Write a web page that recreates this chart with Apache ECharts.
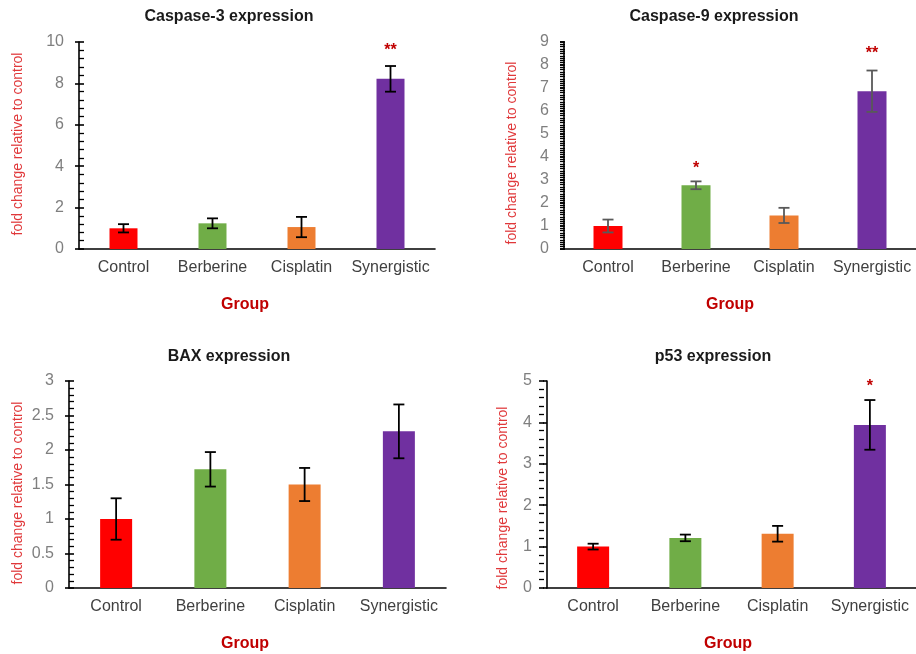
<!DOCTYPE html>
<html>
<head>
<meta charset="utf-8">
<script src="https://cdn.jsdelivr.net/npm/echarts@6/dist/echarts.min.js"></script>
<style>html,body{margin:0;padding:0;background:#fff}#c{width:916px;height:654px}</style>
</head>
<body>
<div id="c"></div>
<script>
// ---- data ----
const categories = ["Control", "Berberine", "Cisplatin", "Synergistic"];
const barColors = ["#FF0000", "#70AD47", "#ED7D31", "#7030A0"];

const casp3Mean = [1.0, 1.24, 1.06, 8.22];
const casp3Err  = [0.2, 0.24, 0.49, 0.62];
const casp3Sig  = ["", "", "", "**"];
const casp3SigY = [0, 0, 0, 9.8];

const casp9Mean = [1.0, 2.77, 1.46, 6.86];
const casp9Err  = [0.28, 0.17, 0.33, 0.9];
const casp9Sig  = ["", "*", "", "**"];
const casp9SigY = [0, 3.67, 0, 8.68];

const baxMean = [1.0, 1.72, 1.5, 2.27];
const baxErr  = [0.3, 0.25, 0.24, 0.39];
const baxSig  = ["", "", "", ""];
const baxSigY = [0, 0, 0, 0];

const p53Mean = [1.0, 1.21, 1.31, 3.94];
const p53Err  = [0.07, 0.08, 0.19, 0.6];
const p53Sig  = ["", "", "", "*"];
const p53SigY = [0, 0, 0, 4.97];

const panelTitles = ["Caspase-3 expression", "Caspase-9 expression", "BAX expression", "p53 expression"];
const yAxisTitle = "fold change relative to control";
const xAxisTitle = "Group";

// ---- layout / style ----
const panels = [
  {mean: casp3Mean, err: casp3Err, sig: casp3Sig, sigY: casp3SigY, max: 10, interval: 2, minorSplit: 5,
   grid: {left: 79, top: 42, width: 356, height: 207}, barWidth: 28, errColor: "#000",
   titlePos: [229, 17], yNamePos: [18, 144], xNamePos: [245, 305]},
  {mean: casp9Mean, err: casp9Err, sig: casp9Sig, sigY: casp9SigY, max: 9, interval: 1, minorSplit: 10,
   grid: {left: 564, top: 42, width: 356, height: 207}, barWidth: 29, errColor: "#595959",
   titlePos: [714, 17], yNamePos: [512, 153], xNamePos: [730, 305]},
  {mean: baxMean, err: baxErr, sig: baxSig, sigY: baxSigY, max: 3, interval: 0.5, minorSplit: 5,
   grid: {left: 69, top: 381, width: 377, height: 207}, barWidth: 32, errColor: "#000",
   titlePos: [229, 357], yNamePos: [18, 493], xNamePos: [245, 644]},
  {mean: p53Mean, err: p53Err, sig: p53Sig, sigY: p53SigY, max: 5, interval: 1, minorSplit: 5,
   grid: {left: 547, top: 381, width: 377, height: 207}, barWidth: 32, errColor: "#000",
   titlePos: [713, 357], yNamePos: [503, 498], xNamePos: [728, 644]}
];

const FONT = "'Liberation Sans', Arial, sans-serif";
const grids = [], xAxes = [], yAxes = [], series = [], graphics = [];

panels.forEach((p, i) => {
  grids.push(Object.assign({containLabel: false}, p.grid));
  // main x axis
  xAxes.push({
    type: 'category', gridIndex: i, data: categories,
    axisLine: {lineStyle: {color: '#000', width: 1.6}},
    axisTick: {show: true, alignWithLabel: true, inside: true, length: 4, lineStyle: {color: '#000', width: 1.6}},
    axisLabel: {color: '#404040', fontSize: 16, fontFamily: FONT, margin: 11, interval: 0, hideOverlap: false},
    splitLine: {show: false}
  });
  // outward half of crossing x ticks
  xAxes.push({
    type: 'category', gridIndex: i, data: categories,
    axisLine: {show: false},
    axisTick: {show: true, alignWithLabel: true, inside: false, length: 4, lineStyle: {color: '#000', width: 1.6}},
    axisLabel: {show: false}, splitLine: {show: false}
  });
  // main y axis: line, labels, outward half of major ticks
  yAxes.push({
    type: 'value', gridIndex: i, min: 0, max: p.max, interval: p.interval, position: 'left',
    axisLine: {show: true, lineStyle: {color: '#000', width: 1.6}},
    axisTick: {show: true, inside: false, length: 4, lineStyle: {color: '#000', width: 1.6}},
    axisLabel: {color: '#7f7f7f', fontSize: 16, fontFamily: FONT, margin: 15},
    splitLine: {show: false}
  });
  // inward major + minor ticks: an axis placed on the right, shifted onto the left edge
  yAxes.push({
    type: 'value', gridIndex: i, min: 0, max: p.max, interval: p.interval, position: 'right',
    offset: -p.grid.width,
    axisLine: {show: false},
    axisTick: {show: true, inside: false, length: 5, lineStyle: {color: '#000', width: 1.6}},
    minorTick: {show: true, splitNumber: p.minorSplit, length: 5, lineStyle: {color: '#000', width: 1.3}},
    axisLabel: {show: false}, splitLine: {show: false}
  });

  const xi = 2 * i, yi = 2 * i;
  series.push({
    type: 'bar', xAxisIndex: xi, yAxisIndex: yi, barWidth: p.barWidth,
    data: p.mean.map((v, k) => ({value: v, itemStyle: {color: barColors[k]}})),
    silent: true
  });
  const errColor = p.errColor;
  series.push({
    type: 'custom', xAxisIndex: xi, yAxisIndex: yi, silent: true,
    data: p.mean.map((v, k) => [k, v, p.err[k]]),
    renderItem: function (params, api) {
      const x = api.value(0), m = api.value(1), e = api.value(2);
      const hi = api.coord([x, m + e]);
      const lo = api.coord([x, m - e]);
      const hw = 5.5;
      const st = {stroke: errColor, lineWidth: 1.8};
      return {type: 'group', children: [
        {type: 'line', shape: {x1: hi[0], y1: hi[1], x2: lo[0], y2: lo[1]}, style: st},
        {type: 'line', shape: {x1: hi[0] - hw, y1: hi[1], x2: hi[0] + hw, y2: hi[1]}, style: st},
        {type: 'line', shape: {x1: lo[0] - hw, y1: lo[1], x2: lo[0] + hw, y2: lo[1]}, style: st}
      ]};
    },
    z: 5
  });
  const sigs = p.sig;
  series.push({
    type: 'custom', xAxisIndex: xi, yAxisIndex: yi, silent: true,
    data: p.sigY.map((v, k) => [k, v]),
    renderItem: function (params, api) {
      const k = params.dataIndex;
      if (!sigs[k]) return null;
      const pt = api.coord([api.value(0), api.value(1)]);
      return {type: 'text', x: pt[0], y: pt[1] + 4,
        style: {text: sigs[k], fill: '#C00000', font: 'bold 16px ' + FONT,
                textAlign: 'center', textVerticalAlign: 'middle', align: 'center', verticalAlign: 'middle'}};
    },
    z: 6
  });

  graphics.push({type: 'text', x: p.titlePos[0], y: p.titlePos[1],
    style: {text: panelTitles[i], fill: '#1a1a1a', font: 'bold 16px ' + FONT,
            textAlign: 'center', textVerticalAlign: 'middle', align: 'center', verticalAlign: 'middle'}});
  graphics.push({type: 'text', x: p.yNamePos[0], y: p.yNamePos[1], rotation: Math.PI / 2,
    style: {text: yAxisTitle, fill: '#E0383A', font: '14px ' + FONT,
            textAlign: 'center', textVerticalAlign: 'middle', align: 'center', verticalAlign: 'middle'}});
  graphics.push({type: 'text', x: p.xNamePos[0], y: p.xNamePos[1],
    style: {text: xAxisTitle, fill: '#C00000', font: 'bold 16px ' + FONT,
            textAlign: 'center', textVerticalAlign: 'middle', align: 'center', verticalAlign: 'middle'}});
});

const chart = echarts.init(document.getElementById('c'), null, {renderer: 'canvas'});
chart.setOption({
  animation: false,
  backgroundColor: '#fff',
  grid: grids, xAxis: xAxes, yAxis: yAxes, series: series,
  graphic: graphics
});
</script>
</body>
</html>
